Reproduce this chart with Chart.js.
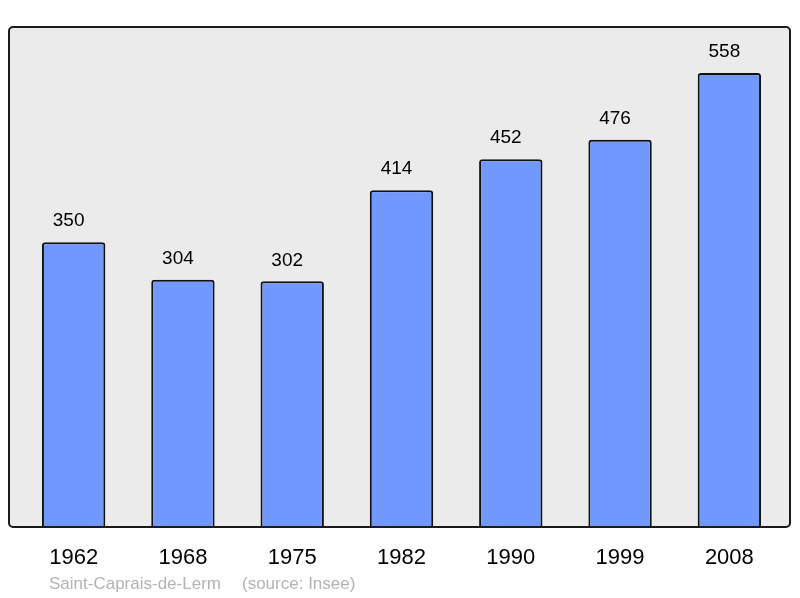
<!DOCTYPE html>
<html>
<head>
<meta charset="utf-8">
<script src="https://cdn.jsdelivr.net/npm/chart.js@4/dist/chart.umd.min.js"></script>
<style>
  html, body { margin: 0; padding: 0; background: #fff; }
  #wrap { width: 800px; height: 598px; }
</style>
</head>
<body>
<div id="wrap"><canvas id="mainChart" width="800" height="598"></canvas></div>
<script>
const YEARS = ['1962', '1968', '1975', '1982', '1990', '1999', '2008'];
const POPULATION = [350, 304, 302, 414, 452, 476, 558];
const COMMUNE = 'Saint-Caprais-de-Lerm';
const SOURCE = '(source: Insee)';

// frame + grey background behind the bars
const framePlugin = {
    id: 'frame',
    beforeDatasetsDraw(chart) {
        const ctx = chart.ctx;
        const a = chart.chartArea;
        const x0 = a.left - 10, x1 = a.right + 6, y0 = a.top, y1 = a.bottom;
        ctx.save();
        ctx.beginPath();
        ctx.roundRect(x0, y0, x1 - x0, y1 - y0, 4);
        ctx.fillStyle = '#ebebeb';
        ctx.fill();
        ctx.restore();
    },
    afterDatasetsDraw(chart) {
        const ctx = chart.ctx;
        const a = chart.chartArea;
        const x0 = a.left - 10, x1 = a.right + 6, y0 = a.top, y1 = a.bottom;
        ctx.save();
        ctx.beginPath();
        ctx.roundRect(x0, y0, x1 - x0, y1 - y0, 4);
        ctx.lineWidth = 2;
        ctx.strokeStyle = '#1a1a1a';
        ctx.stroke();

        // values above bars
        const meta = chart.getDatasetMeta(0);
        ctx.fillStyle = '#000';
        ctx.font = '19px "Liberation Sans", Arial, sans-serif';
        ctx.textAlign = 'center';
        ctx.textBaseline = 'middle';
        meta.data.forEach((bar, i) => {
            ctx.fillText(String(POPULATION[i]), bar.x - 5, bar.y - 21);
        });

        // source line
        ctx.fillStyle = '#b3b3b3';
        ctx.font = '17px "Liberation Sans", Arial, sans-serif';
        ctx.textAlign = 'left';
        ctx.fillText(COMMUNE, 49, 584);
        ctx.fillText(SOURCE, 242, 584);
        ctx.restore();
    }
};

const CTX = document.getElementById('mainChart').getContext('2d');
const CHART = new Chart(CTX, {
    type: 'bar',
    data: {
        labels: YEARS,
        datasets: [{
            data: POPULATION,
            backgroundColor: '#7098ff',
            borderColor: '#111',
            borderWidth: 2,
            borderRadius: 3,
            borderSkipped: 'bottom',
            categoryPercentage: 1,
            barPercentage: 0.58
        }]
    },
    options: {
        responsive: false,
        animation: false,
        layout: { padding: { left: 19, right: 16, top: 27, bottom: 0 } },
        plugins: {
            legend: { display: false },
            tooltip: { enabled: false }
        },
        scales: {
            y: {
                display: false,
                min: 0,
                max: 614.5
            },
            x: {
                grid: { display: false, drawTicks: false },
                border: { display: false },
                ticks: {
                    color: '#000',
                    padding: 18,
                    font: { size: 22, family: '"Liberation Sans", Arial, sans-serif' }
                },
                afterFit(scale) { scale.height = 71; }
            }
        }
    },
    plugins: [framePlugin]
});
</script>
</body>
</html>
